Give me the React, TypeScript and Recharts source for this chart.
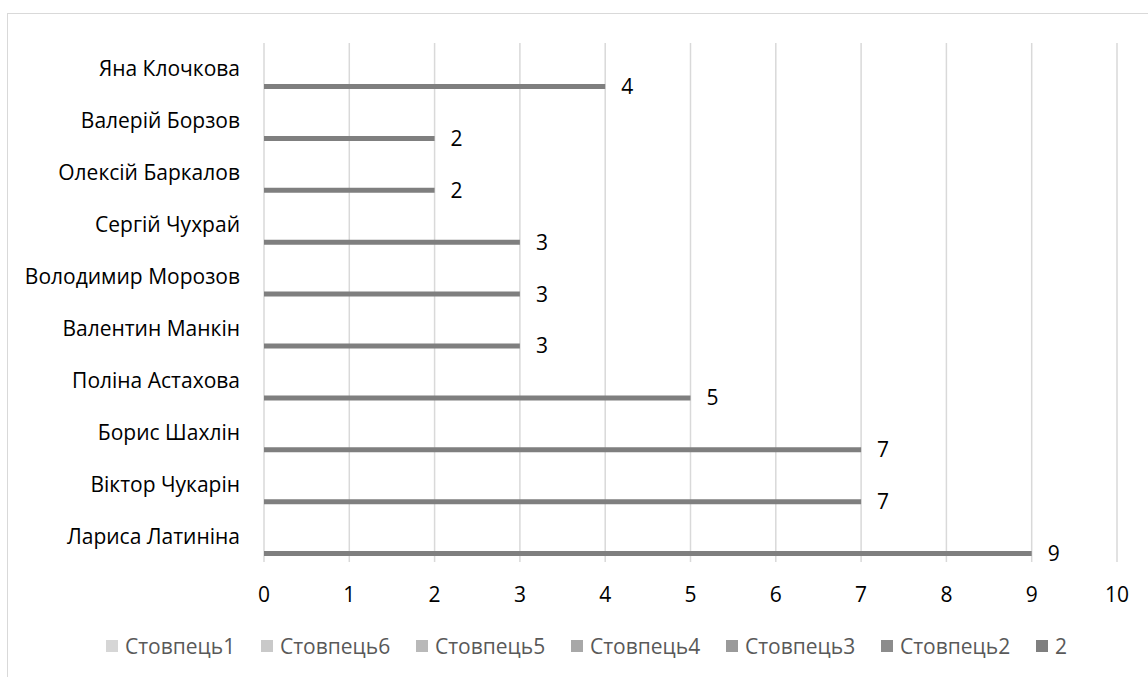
import { BarChart, Bar, XAxis, YAxis, CartesianGrid, Legend, LabelList } from 'recharts';

const athletes = [
  'Яна Клочкова',
  'Валерій Борзов',
  'Олексій Баркалов',
  'Сергій Чухрай',
  'Володимир Морозов',
  'Валентин Манкін',
  'Поліна Астахова',
  'Борис Шахлін',
  'Віктор Чукарін',
  'Лариса Латиніна',
];
const medals = [4, 2, 2, 3, 3, 3, 5, 7, 7, 9];
const seriesNames = ['Стовпець1', 'Стовпець6', 'Стовпець5', 'Стовпець4', 'Стовпець3', 'Стовпець2', '2'];
const seriesColors = ['#d6d6d6', '#c9c9c9', '#b9b9b9', '#a8a8a8', '#9a9a9a', '#8c8c8c', '#7f7f7f'];
const xTicks = [0, 1, 2, 3, 4, 5, 6, 7, 8, 9, 10];

const FONT = '"Open Sans", sans-serif';
const FS = 21;

const data = athletes.map((name, i) => {
  const row: Record<string, string | number | null> = { name };
  seriesNames.forEach(s => {
    row[s] = s === '2' ? medals[i] : null;
  });
  return row;
});

function LegendContent(props: any) {
  // keep the series order, recharts sorts the payload by name
  const items = [...(props.payload || [])].sort(
    (a: any, b: any) => seriesNames.indexOf(a.value) - seriesNames.indexOf(b.value)
  );
  return (
    <div style={{ display: 'flex', alignItems: 'center', height: 20, fontFamily: FONT, fontSize: FS, color: '#595959' }}>
      {items.map((it: any) => (
        <div
          key={it.value}
          style={{ display: 'flex', alignItems: 'center', width: 155, flexShrink: 0, whiteSpace: 'nowrap' }}
        >
          <span style={{ display: 'inline-block', width: 12, height: 12, background: it.color, marginRight: 7 }} />
          <span>{it.value}</span>
        </div>
      ))}
    </div>
  );
}

export default function App() {
  return (
    <div style={{ position: 'fixed', left: 0, top: 0, width: 1148, height: 677, overflow: 'hidden', background: '#fff' }}>
      <div
        style={{
          position: 'absolute',
          left: 7,
          top: 13,
          width: 1200,
          height: 720,
          border: '1px solid #d9d9d9',
          boxSizing: 'border-box',
        }}
      />
      <div style={{ position: 'absolute', left: 0, top: 0 }}>
        <BarChart
          width={1148}
          height={677}
          data={data}
          layout="vertical"
          margin={{ top: 43, right: 31, left: 0, bottom: 55 }}
          barSize={5}
          barGap={1}
          style={{ fontFamily: FONT }}
        >
          <CartesianGrid horizontal={false} stroke="#d9d9d9" strokeWidth={1.5} />
          <XAxis
            type="number"
            domain={[0, 10]}
            ticks={xTicks}
            interval={0}
            axisLine={false}
            tickLine={false}
            tickMargin={19}
            height={40}
            tick={{ fill: '#000', fontSize: FS, fontFamily: FONT }}
          />
          <YAxis
            type="category"
            dataKey="name"
            width={264}
            axisLine={false}
            tickLine={false}
            tickMargin={18}
            interval={0}
            tick={{ fill: '#000', fontSize: FS, fontFamily: FONT }}
          />
          <Legend
            content={<LegendContent />}
            wrapperStyle={{ position: 'absolute', left: 106, top: 636, width: 1040, height: 20 }}
          />
          {seriesNames.map((s, i) => (
            <Bar key={s} dataKey={s} name={s} fill={seriesColors[i]} isAnimationActive={false}>
              {s === '2' && (
                <LabelList dataKey={s} position="right" offset={16} fill="#000" fontSize={FS} fontFamily={FONT} />
              )}
            </Bar>
          ))}
        </BarChart>
      </div>
    </div>
  );
}
